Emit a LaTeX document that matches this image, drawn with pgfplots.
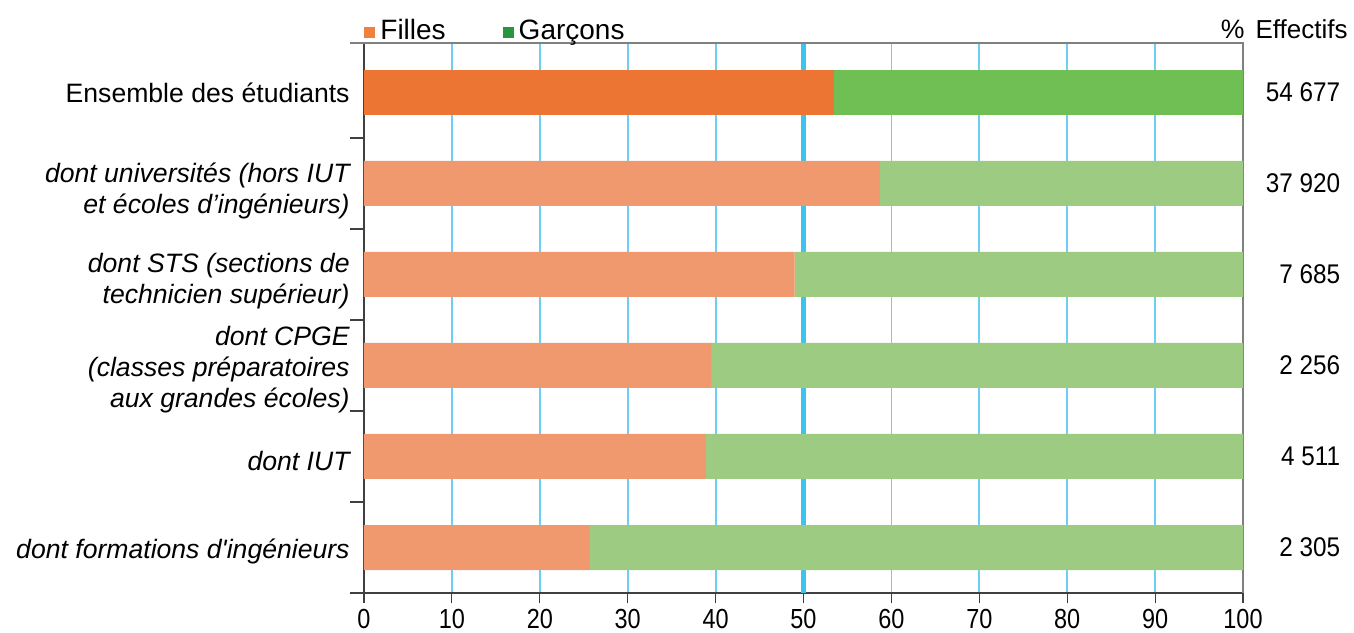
\documentclass[border=0pt]{standalone}
\usepackage{fontspec}
\setmainfont{Liberation Sans}
\newfontfamily\rawfont{Liberation Sans}
\newfontfamily\narrowfont{Liberation Sans}[FakeStretch=0.85]
\newfontfamily\valfont{Liberation Sans}[FakeStretch=0.9]
\usepackage{pgfplots}
\pgfplotsset{compat=1.18}
\definecolor{fD}{HTML}{ED7534}
\definecolor{gD}{HTML}{70BF54}
\definecolor{fL}{HTML}{F1996E}
\definecolor{gL}{HTML}{9DCB82}
\definecolor{legF}{HTML}{F08040}
\definecolor{legG}{HTML}{27963C}
\definecolor{gridc}{HTML}{6DCFF6}
\definecolor{fifty}{HTML}{3BC4F0}
\begin{document}
\begin{tikzpicture}
\begin{axis}[
  scale only axis, width=439.5pt, height=275pt,
  xbar stacked, bar width=22.5pt,
  xmin=0, xmax=100, ymin=-0.5, ymax=5.544,
  clip=false,
  axis x line*=bottom, axis y line*=left,
  axis line style={draw=black!75, line width=0.6pt},
  tick align=outside,
  major tick length=5pt, minor tick length=7pt,
  xtick={0,10,...,100},
  xtick style={draw=black!75, line width=0.6pt},
  xmajorgrids,
  major grid style={gridc, line width=0.9pt},
  extra x ticks={50}, extra x tick labels={},
  extra x tick style={grid=major, major grid style={fifty, line width=2.5pt}, major tick style={fifty, line width=2.5pt}},
  xticklabel style={font=\narrowfont\fontsize{13.8}{16}\selectfont, inner sep=0pt, yshift=-2.8pt, /pgf/number format/assume math mode=true},
  ytick={0,...,5},
  yticklabels={{\rawfont\itshape dont formations d'ingénieurs},
    {dont IUT},
    {dont CPGE\\(classes préparatoires\\aux grandes écoles)},
    {\rule{0pt}{12.5pt}dont STS (sections de\\technicien supérieur)},
    {\rule{0pt}{13pt}dont universités (hors IUT\\et écoles d’ingénieurs)},
    {\upshape\raisebox{4pt}{Ensemble des étudiants}}},
  every major y tick/.append style={draw=none},
  minor ytick={-0.5,0.5,1.5,2.5,3.5,4.5},
  every minor y tick/.append style={draw=black!75, line width=0.6pt},
  yticklabel style={font=\fontsize{13.3}{15.5}\selectfont\itshape, align=right, inner sep=0pt, anchor=east, xshift=-2pt, yshift=-2pt},
  legend style={at={(rel axis cs:0,1)}, anchor=south west, draw=none, fill=none, inner sep=0pt, yshift=-2.5pt,
    font=\fontsize{14}{16}\selectfont, legend columns=2,
    nodes={inner sep=2.5pt},
    /tikz/every even column/.append style={column sep=26pt}},
  legend cell align=left,
  legend image code/.code={\fill[#1] (0pt,-3.5pt) rectangle (5.5pt,2pt);},
]
\addplot[fill=fL, draw=none, forget plot] coordinates {(25.7,0) (38.9,1) (39.5,2) (49.0,3) (58.7,4) (0,5)};
\addplot[fill=fD, draw=none, forget plot] coordinates {(0,0) (0,1) (0,2) (0,3) (0,4) (53.5,5)};
\addplot[fill=gL, draw=none, forget plot] coordinates {(74.3,0) (61.1,1) (60.5,2) (51.0,3) (41.3,4) (0,5)};
\addplot[fill=gD, draw=none, forget plot] coordinates {(0,0) (0,1) (0,2) (0,3) (0,4) (46.5,5)};
\addlegendimage{fill=legF, draw=none}
\addlegendentry{Filles}
\addlegendimage{fill=legG, draw=none}
\addlegendentry{Garçons}
\draw[black!50, line width=0.6pt] ([xshift=-7pt]rel axis cs:0,1) -- (rel axis cs:1,1) -- (rel axis cs:1,0);
\coordinate (SW) at (rel axis cs:0,0);
\node[anchor=base east, inner sep=0pt, font=\fontsize{13.3}{15.5}\selectfont] at ([xshift=1pt, yshift=2pt]rel axis cs:1,1) {\%};
\node[anchor=base east, inner sep=0pt, font=\fontsize{13}{15.5}\selectfont] at ([xshift=52.5pt, yshift=2pt]rel axis cs:1,1) {Effectifs};
\node[anchor=east, inner sep=0pt, font=\valfont\fontsize{13.5}{15.5}\selectfont] at (axis cs:111.1,5) {54 677};
\node[anchor=east, inner sep=0pt, font=\valfont\fontsize{13.5}{15.5}\selectfont] at (axis cs:111.1,4) {37 920};
\node[anchor=east, inner sep=0pt, font=\valfont\fontsize{13.5}{15.5}\selectfont] at (axis cs:111.1,3) {7 685};
\node[anchor=east, inner sep=0pt, font=\valfont\fontsize{13.5}{15.5}\selectfont] at (axis cs:111.1,2) {2 256};
\node[anchor=east, inner sep=0pt, font=\valfont\fontsize{13.5}{15.5}\selectfont] at (axis cs:111.1,1) {4 511};
\node[anchor=east, inner sep=0pt, font=\valfont\fontsize{13.5}{15.5}\selectfont] at (axis cs:111.1,0) {2 305};
\end{axis}
\pgfresetboundingbox
\path ([xshift=-182pt,yshift=-19.5pt]SW) rectangle ++(677pt,316pt);
\end{tikzpicture}
\end{document}
